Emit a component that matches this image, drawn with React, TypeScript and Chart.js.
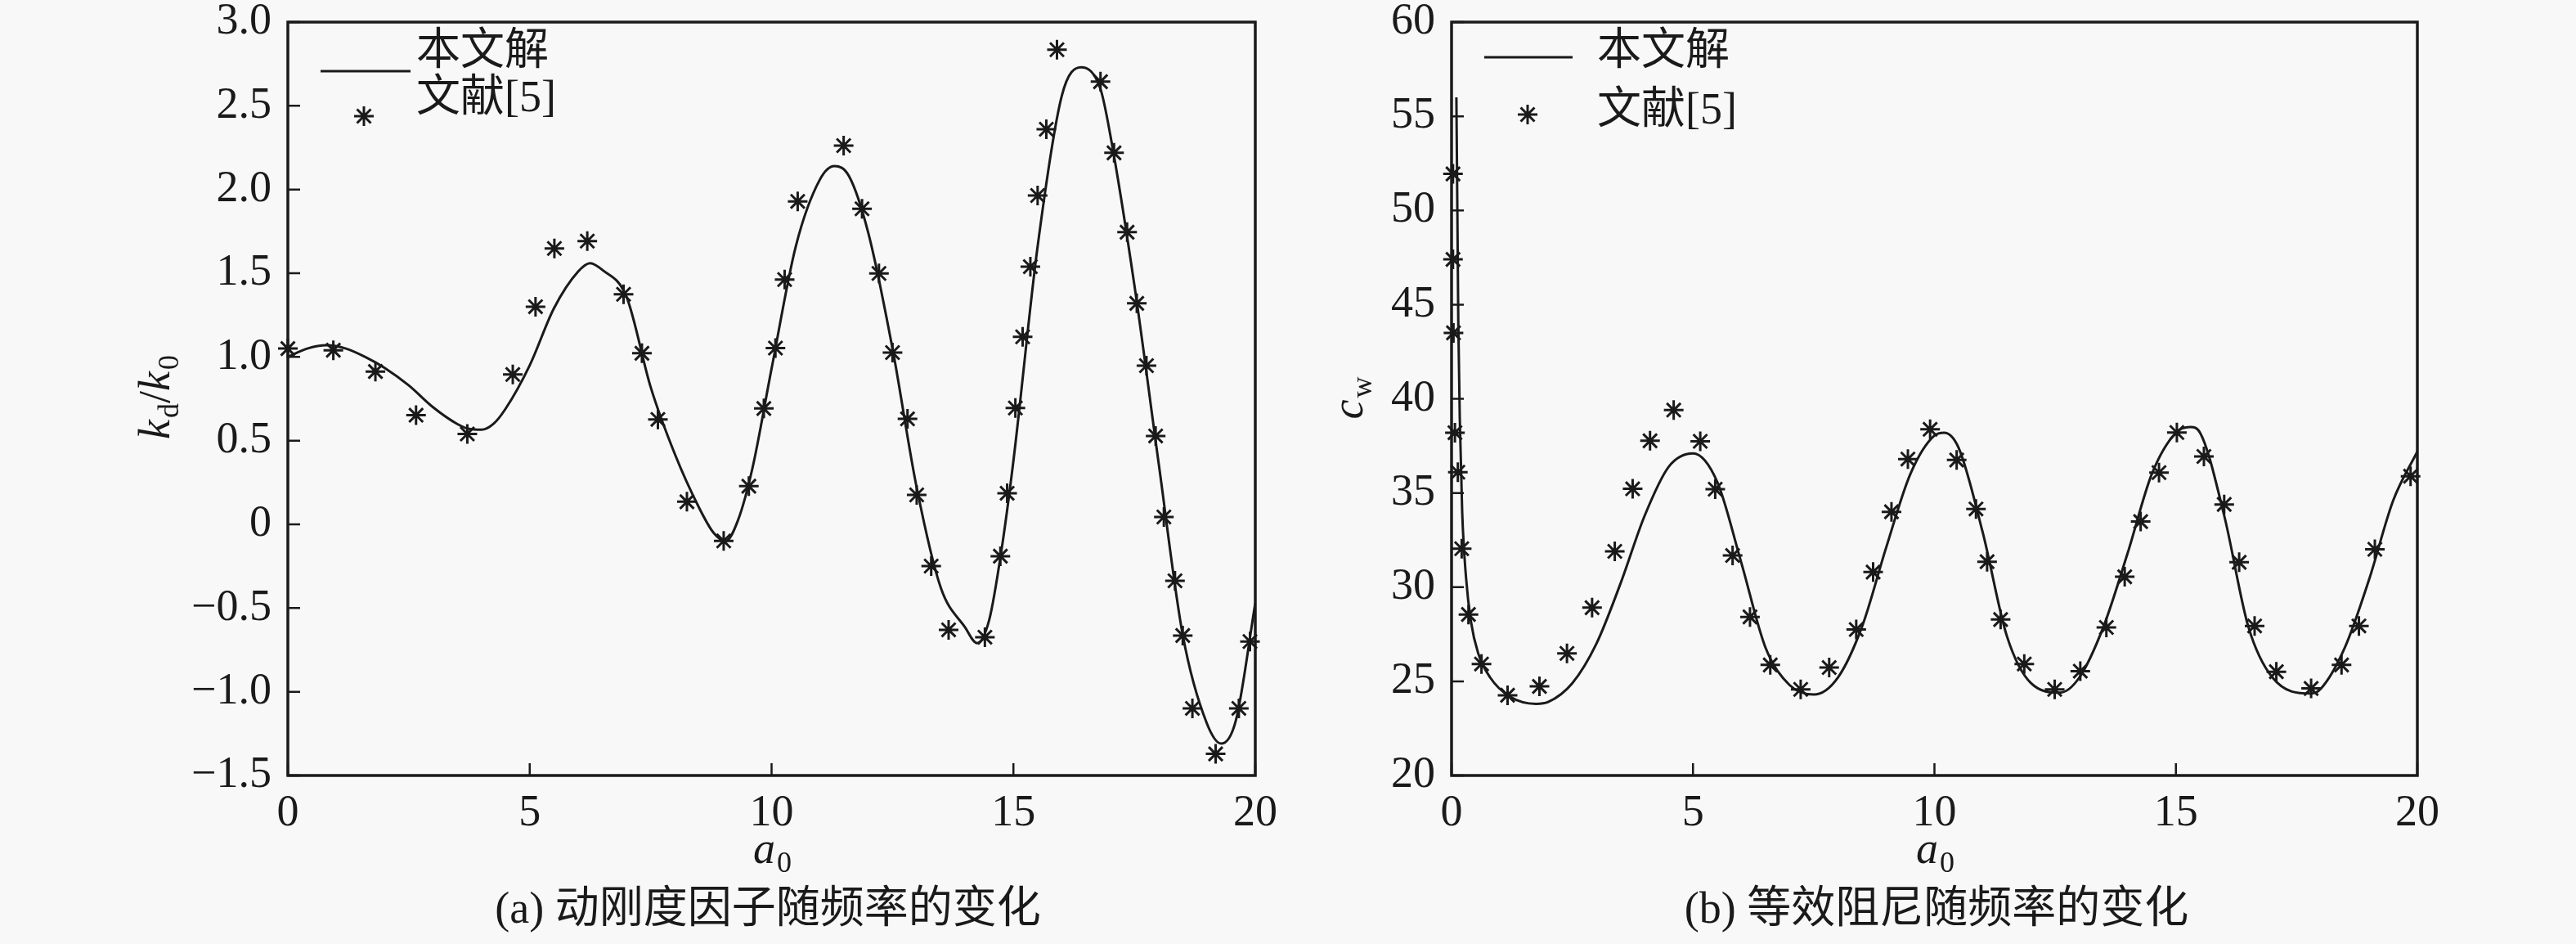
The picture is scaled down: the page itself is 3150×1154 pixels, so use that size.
import { useEffect, useRef } from "react"
import { Chart, registerables } from "chart.js"

Chart.register(...registerables)

// ---- data ----
const xTicks = [0, 5, 10, 15, 20]

// (a) k_d/k_0
const yTicksA = [-1.5, -1.0, -0.5, 0, 0.5, 1.0, 1.5, 2.0, 2.5, 3.0]
const curveAx = [0, 0.4, 0.8, 1.2, 1.6, 2, 2.5, 3, 3.5, 3.75, 4.0, 4.25, 4.5, 5, 5.5, 6, 6.25, 6.5, 7, 7.5, 8, 8.5, 8.8, 9.05, 9.3, 9.6, 10, 10.5, 11, 11.3, 11.6, 12, 12.5, 13, 13.5, 14, 14.25, 14.5, 14.75, 15, 15.5, 16, 16.4, 16.8, 17, 17.5, 18, 18.5, 19, 19.3, 19.6, 20]
const curveAy = [1.0, 1.05, 1.07, 1.05, 1.0, 0.935, 0.83, 0.7, 0.6, 0.57, 0.565, 0.6, 0.69, 0.95, 1.29, 1.51, 1.56, 1.52, 1.36, 0.82, 0.42, 0.1, -0.05, -0.1, 0.02, 0.33, 0.93, 1.66, 2.06, 2.14, 2.08, 1.74, 1.05, 0.22, -0.38, -0.615, -0.71, -0.57, -0.16, 0.38, 1.66, 2.56, 2.73, 2.6, 2.33, 1.43, 0.37, -0.66, -1.19, -1.31, -1.17, -0.47]
const refAx = [0, 0.94, 1.81, 2.65, 3.71, 4.65, 5.12, 5.51, 6.19, 6.94, 7.32, 7.65, 8.25, 9.01, 9.53, 9.84, 10.08, 10.27, 10.54, 11.49, 11.87, 12.22, 12.5, 12.81, 13.0, 13.3, 13.66, 14.41, 14.73, 14.87, 15.04, 15.19, 15.35, 15.5, 15.68, 15.9, 16.8, 17.08, 17.35, 17.55, 17.75, 17.94, 18.11, 18.34, 18.5, 18.7, 19.18, 19.66, 19.89]
const refAy = [1.05, 1.04, 0.913, 0.652, 0.54, 0.895, 1.3, 1.648, 1.692, 1.374, 1.022, 0.627, 0.135, -0.099, 0.228, 0.692, 1.053, 1.462, 1.929, 2.262, 1.885, 1.499, 1.026, 0.63, 0.176, -0.249, -0.63, -0.674, -0.19, 0.186, 0.695, 1.12, 1.539, 1.964, 2.36, 2.835, 2.644, 2.219, 1.745, 1.32, 0.948, 0.528, 0.044, -0.337, -0.664, -1.099, -1.371, -1.099, -0.7]

// (b) c_w
const yTicksB = [20, 25, 30, 35, 40, 45, 50, 55, 60]
const curveBx = [0.1, 0.12, 0.14, 0.17, 0.22, 0.3, 0.4, 0.55, 0.8, 1.2, 1.75, 2, 2.5, 3, 3.5, 4, 4.5, 5, 5.5, 6, 6.5, 7, 7.5, 8, 8.5, 9, 9.5, 10, 10.2, 10.5, 11, 11.5, 12, 12.6, 13, 13.5, 14, 14.5, 15, 15.3, 15.5, 16, 16.5, 17, 17.8, 18, 18.5, 19, 19.5, 20]
const curveBy = [56, 50, 44, 39, 34, 30.5, 28.2, 26.5, 25.2, 24.2, 23.8, 23.9, 24.9, 27.0, 30.2, 33.8, 36.4, 37.1, 35.6, 31.3, 26.8, 24.8, 24.3, 25.2, 27.9, 32.1, 36.0, 38.05, 38.2, 37.4, 32.9, 27.4, 24.9, 24.4, 25.2, 27.9, 31.8, 36.0, 38.2, 38.5, 38.2, 33.8, 27.9, 25.2, 24.35, 24.6, 26.8, 30.4, 34.6, 37.2]
const refBx = [0.03, 0.03, 0.04, 0.07, 0.13, 0.21, 0.35, 0.62, 1.16, 1.82, 2.39, 2.91, 3.38, 3.75, 4.11, 4.6, 5.15, 5.46, 5.82, 6.18, 6.6, 7.23, 7.82, 8.38, 8.73, 9.11, 9.45, 9.91, 10.46, 10.86, 11.09, 11.37, 11.86, 12.49, 13.02, 13.56, 13.94, 14.27, 14.65, 15.02, 15.58, 16.0, 16.31, 16.63, 17.08, 17.8, 18.43, 18.79, 19.12, 19.86]
const refBy = [51.94, 47.4, 43.5, 38.2, 36.1, 32.04, 28.55, 25.92, 24.26, 24.73, 26.48, 28.91, 31.9, 35.22, 37.77, 39.4, 37.74, 35.2, 31.68, 28.42, 25.87, 24.57, 25.73, 27.75, 30.8, 34.0, 36.8, 38.38, 36.75, 34.15, 31.35, 28.28, 25.92, 24.57, 25.54, 27.86, 30.55, 33.48, 36.08, 38.21, 36.94, 34.39, 31.32, 27.94, 25.51, 24.62, 25.87, 27.94, 32.01, 35.89]

const legendLabels = ["本文解", "文献[5]"]

// ---- style ----
const INK = "#1a1a1a"
const BG = "#f8f8f8"
const SERIF = '"Liberation Serif", "Noto Sans CJK SC", serif'
const FS = 54

type Part = { t: string; italic?: boolean; sub?: boolean }

function drawRich(ctx: CanvasRenderingContext2D, parts: Part[], x: number, y: number) {
  const fontOf = (p: Part) => `${p.italic ? "italic " : ""}${p.sub ? 36 : FS}px ${SERIF}`
  let w = 0
  for (const p of parts) {
    ctx.font = fontOf(p)
    w += ctx.measureText(p.t).width
  }
  let cx = x - w / 2
  ctx.textAlign = "left"
  ctx.textBaseline = "alphabetic"
  for (const p of parts) {
    ctx.font = fontOf(p)
    ctx.fillText(p.t, cx, p.sub ? y + 11 : y)
    cx += ctx.measureText(p.t).width + (p.italic ? 2 : 0)
  }
}

function drawStar(ctx: CanvasRenderingContext2D, x: number, y: number, r: number) {
  const d = r * Math.SQRT1_2
  ctx.beginPath()
  ctx.moveTo(x - r, y); ctx.lineTo(x + r, y)
  ctx.moveTo(x, y - r); ctx.lineTo(x, y + r)
  ctx.moveTo(x - d, y - d); ctx.lineTo(x + d, y + d)
  ctx.moveTo(x - d, y + d); ctx.lineTo(x + d, y - d)
  ctx.stroke()
}

type Decor = {
  yTitle: Part[]
  yTitleX: number
  caption: string
  captionX: number
  legend: { lineX0: number; lineX1: number; lineY: number; starX: number; starY: number; textX: number; rowY: number[] }
}

function decorPlugin(d: Decor) {
  return {
    id: "decor",
    afterDraw(chart: any) {
      const { ctx, chartArea: a, scales } = chart
      ctx.save()
      ctx.strokeStyle = INK
      ctx.fillStyle = INK
      ctx.lineWidth = 3.5
      ctx.strokeRect(a.left, a.top, a.right - a.left, a.bottom - a.top)

      // inward ticks on left and bottom
      ctx.lineWidth = 2.5
      ctx.beginPath()
      for (const t of scales.y.ticks) {
        const py = scales.y.getPixelForValue(t.value)
        ctx.moveTo(a.left, py)
        ctx.lineTo(a.left + 15, py)
      }
      for (const t of scales.x.ticks) {
        const px = scales.x.getPixelForValue(t.value)
        ctx.moveTo(px, a.bottom)
        ctx.lineTo(px, a.bottom - 15)
      }
      ctx.stroke()

      // legend
      const L = d.legend
      ctx.lineWidth = 3
      ctx.beginPath()
      ctx.moveTo(L.lineX0, L.lineY)
      ctx.lineTo(L.lineX1, L.lineY)
      ctx.stroke()
      drawStar(ctx, L.starX, L.starY, 12)
      ctx.font = `${FS}px ${SERIF}`
      ctx.textAlign = "left"
      ctx.textBaseline = "middle"
      legendLabels.forEach((s, i) => ctx.fillText(s, L.textX, L.rowY[i]))

      // x title
      const midX = (a.left + a.right) / 2
      drawRich(ctx, [{ t: "a", italic: true }, { t: "0", sub: true }], midX, 1055)

      // y title (rotated)
      ctx.save()
      ctx.translate(d.yTitleX, (a.top + a.bottom) / 2)
      ctx.rotate(-Math.PI / 2)
      drawRich(ctx, d.yTitle, 0, 0)
      ctx.restore()

      // caption
      ctx.font = `${FS}px ${SERIF}`
      ctx.textAlign = "center"
      ctx.textBaseline = "middle"
      ctx.fillText(d.caption, d.captionX, 1114)
      ctx.restore()
    },
  }
}

const toPts = (xs: number[], ys: number[]) => xs.map((x, i) => ({ x, y: ys[i] }))

function makeConfig(opts: {
  curve: { x: number; y: number }[]
  refs: { x: number; y: number }[]
  yMin: number
  yMax: number
  yTicks: number[]
  fmt: (v: number) => string
  yWidth: number
  padRight: number
  decor: Decor
}): any {
  const tickFont = { family: SERIF, size: FS }
  return {
    type: "scatter",
    data: {
      datasets: [
        {
          label: legendLabels[0],
          data: opts.curve,
          showLine: true,
          pointRadius: 0,
          borderColor: INK,
          borderWidth: 3,
          cubicInterpolationMode: "monotone",
          fill: false,
        },
        {
          label: legendLabels[1],
          data: opts.refs,
          showLine: false,
          pointStyle: "star",
          pointRadius: 12,
          borderColor: INK,
          backgroundColor: INK,
          borderWidth: 3,
          clip: false,
        },
      ],
    },
    options: {
      animation: false,
      responsive: false,
      devicePixelRatio: 1,
      layout: { padding: { left: 0, top: 27, right: opts.padRight, bottom: 126 } },
      plugins: { legend: { display: false }, tooltip: { enabled: false } },
      scales: {
        x: {
          type: "linear",
          min: 0,
          max: 20,
          afterBuildTicks: (s: any) => {
            s.ticks = xTicks.map((v) => ({ value: v }))
          },
          afterFit: (s: any) => {
            s.height = 80
            s.paddingLeft = 0
            s.paddingRight = 0
          },
          grid: { display: false, drawTicks: false },
          border: { display: false },
          ticks: { padding: 14, color: INK, font: tickFont, maxRotation: 0, autoSkip: false, callback: (v: number) => String(v) },
        },
        y: {
          type: "linear",
          min: opts.yMin,
          max: opts.yMax,
          afterBuildTicks: (s: any) => {
            s.ticks = opts.yTicks.map((v) => ({ value: v }))
          },
          afterFit: (s: any) => {
            s.width = opts.yWidth
            s.paddingTop = 0
            s.paddingBottom = 0
          },
          grid: { display: false, drawTicks: false },
          border: { display: false },
          ticks: { padding: 20, color: INK, font: tickFont, autoSkip: false, callback: (v: number) => opts.fmt(v) },
        },
      },
    },
    plugins: [decorPlugin(opts.decor)],
  }
}

const configA = makeConfig({
  curve: toPts(curveAx, curveAy),
  refs: toPts(refAx, refAy),
  yMin: -1.5,
  yMax: 3.0,
  yTicks: yTicksA,
  fmt: (v) => (v === 0 ? "0" : v.toFixed(1).replace("-", "\u2212")),
  yWidth: 352,
  padRight: 40,
  decor: {
    yTitle: [{ t: "k", italic: true }, { t: "d", sub: true }, { t: "/" }, { t: "k", italic: true }, { t: "0", sub: true }],
    yTitleX: 207,
    caption: "(a) 动刚度因子随频率的变化",
    captionX: 939,
    legend: { lineX0: 392, lineX1: 502, lineY: 87, starX: 445, starY: 142, textX: 509, rowY: [65, 122] },
  },
})

const configB = makeConfig({
  curve: toPts(curveBx, curveBy),
  refs: toPts(refBx, refBy),
  yMin: 20,
  yMax: 60,
  yTicks: yTicksB,
  fmt: (v) => String(v),
  yWidth: 200,
  padRight: 194,
  decor: {
    yTitle: [{ t: "c", italic: true }, { t: "w", sub: true }],
    yTitleX: 91,
    caption: "(b) 等效阻尼随频率的变化",
    captionX: 793,
    legend: { lineX0: 240, lineX1: 348, lineY: 70, starX: 293, starY: 140, textX: 378, rowY: [65, 137] },
  },
})

function Panel({ config, left }: { config: any; left: number }) {
  const ref = useRef<HTMLCanvasElement>(null)

  useEffect(() => {
    if (!ref.current) return
    const chart = new Chart(ref.current, config)
    return () => chart.destroy()
  }, [config])

  return (
    <canvas
      ref={ref}
      width={1575}
      height={1154}
      style={{ position: "absolute", left, top: 0, width: 1575, height: 1154 }}
    />
  )
}

export default function App() {
  return (
    <div style={{ position: "absolute", left: 0, top: 0, width: 3150, height: 1154, background: BG, overflow: "hidden" }}>
      <Panel config={configA} left={0} />
      <Panel config={configB} left={1575} />
    </div>
  )
}
